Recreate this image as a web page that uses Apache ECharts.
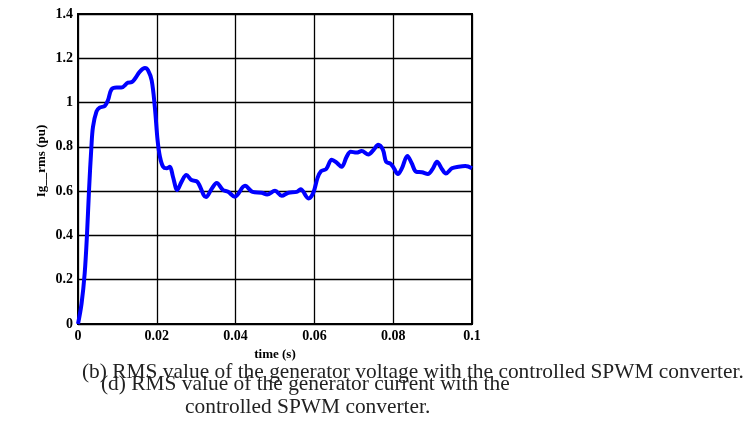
<!DOCTYPE html>
<html>
<head>
<meta charset="utf-8">
<script src="https://cdn.jsdelivr.net/npm/echarts@6/dist/echarts.min.js"></script>
<style>
html,body{margin:0;padding:0;background:#fff;}
#c{width:752px;height:443px;}
</style>
</head>
<body>
<div id="c"></div>
<script>
var times = [0, 0.0009, 0.0017, 0.0023, 0.0028, 0.0034, 0.0038, 0.0047, 0.0055, 0.0068, 0.0076, 0.0085, 0.0098, 0.011, 0.0127, 0.0136, 0.0144, 0.0157, 0.017, 0.0178, 0.0187, 0.0195, 0.0202, 0.0208, 0.0216, 0.0225, 0.0233, 0.0241, 0.0252, 0.0263, 0.0275, 0.0288, 0.0303, 0.0325, 0.0339, 0.0352, 0.0368, 0.0381, 0.0398, 0.0424, 0.0443, 0.0466, 0.048, 0.05, 0.0517, 0.0534, 0.0555, 0.0565, 0.0585, 0.0597, 0.0608, 0.0617, 0.063, 0.0644, 0.0657, 0.0669, 0.0682, 0.0692, 0.0707, 0.072, 0.0737, 0.075, 0.0762, 0.0774, 0.0782, 0.0794, 0.0802, 0.0812, 0.0822, 0.0836, 0.0847, 0.0858, 0.0873, 0.0888, 0.0901, 0.0911, 0.0924, 0.0934, 0.0949, 0.0966, 0.0983, 0.1];
var values = [0, 0.092, 0.23, 0.41, 0.605, 0.80, 0.89, 0.96, 0.977, 0.985, 1.01, 1.06, 1.068, 1.068, 1.09, 1.092, 1.106, 1.14, 1.156, 1.145, 1.10, 0.98, 0.83, 0.755, 0.71, 0.703, 0.71, 0.665, 0.605, 0.643, 0.673, 0.65, 0.642, 0.573, 0.61, 0.637, 0.605, 0.597, 0.575, 0.624, 0.597, 0.593, 0.585, 0.602, 0.579, 0.593, 0.597, 0.608, 0.567, 0.592, 0.66, 0.69, 0.70, 0.742, 0.728, 0.71, 0.756, 0.778, 0.774, 0.781, 0.766, 0.786, 0.809, 0.786, 0.733, 0.723, 0.703, 0.677, 0.703, 0.759, 0.726, 0.688, 0.685, 0.677, 0.703, 0.733, 0.699, 0.68, 0.703, 0.71, 0.713, 0.703];
var xTicks = [0, 0.02, 0.04, 0.06, 0.08, 0.1];
var yTicks = [0, 0.2, 0.4, 0.6, 0.8, 1, 1.2, 1.4];
var xName = 'time (s)';
var yName = 'Ig__rms (pu)';
var captionB = '(b) RMS value of the generator voltage with the controlled SPWM converter.';
var captionD1 = '(d) RMS value of the generator current with the';
var captionD2 = 'controlled SPWM converter.';

var pts = times.map(function (t, i) { return [t, values[i]]; });
var serif = '"Liberation Serif", "DejaVu Serif", serif';
var chart = echarts.init(document.getElementById('c'));
chart.setOption({
  animation: false,
  backgroundColor: '#fff',
  grid: { left: 78, right: 280, top: 14, bottom: 119, show: true, borderColor: '#000', borderWidth: 2, backgroundColor: 'transparent' },
  xAxis: {
    type: 'value', min: xTicks[0], max: xTicks[xTicks.length - 1], interval: 0.02,
    name: xName, nameLocation: 'middle', nameGap: 23,
    nameTextStyle: { fontFamily: serif, fontWeight: 'bold', fontSize: 13, color: '#000' },
    axisLine: { lineStyle: { color: '#000', width: 2 } },
    axisTick: { show: false },
    axisLabel: { fontFamily: serif, fontWeight: 'bold', fontSize: 14, color: '#000', margin: 5 },
    splitLine: { show: true, lineStyle: { color: '#000', width: 1.3 } }
  },
  yAxis: {
    type: 'value', min: yTicks[0], max: yTicks[yTicks.length - 1], interval: 0.2,
    axisLine: { lineStyle: { color: '#000', width: 2 } },
    axisTick: { show: false },
    axisLabel: { fontFamily: serif, fontWeight: 'bold', fontSize: 14, color: '#000', margin: 5 },
    splitLine: { show: true, lineStyle: { color: '#000', width: 1.3 } }
  },
  series: [{
    type: 'line', data: pts, smooth: 0.35, symbol: 'none',
    lineStyle: { color: '#0000ff', width: 4 }
  }],
  graphic: [
    { type: 'text', x: 42, y: 161, rotation: Math.PI / 2, style: { text: yName, font: 'bold 13px ' + serif, fill: '#000', textAlign: 'center', textVerticalAlign: 'middle' } },
    { type: 'text', left: 82, top: 362, style: { text: captionB, font: '21.4px ' + serif, fill: '#222' } },
    { type: 'text', left: 101, top: 374, style: { text: captionD1, font: '21.4px ' + serif, fill: '#222' } },
    { type: 'text', left: 185, top: 397, style: { text: captionD2, font: '21.4px ' + serif, fill: '#222' } }
  ]
});
</script>
</body>
</html>
